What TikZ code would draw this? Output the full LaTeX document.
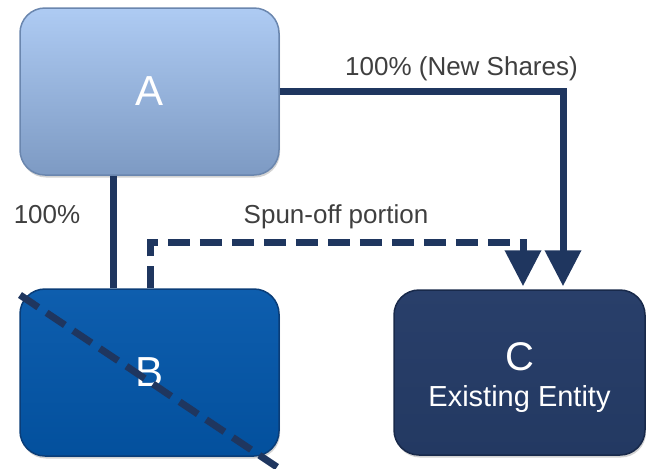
\documentclass[tikz,border=0pt]{standalone}
\usepackage{fontspec}
\setmainfont{Liberation Sans}
\usetikzlibrary{arrows.meta,shadows,calc}
\definecolor{lineblue}{HTML}{1F365F}
\definecolor{atop}{HTML}{AECBF3}
\definecolor{abot}{HTML}{7D9AC3}
\definecolor{aedge}{HTML}{6A86AE}
\definecolor{btop}{HTML}{0E5EAE}
\definecolor{bbot}{HTML}{03509D}
\definecolor{bedge}{HTML}{0A3D78}
\definecolor{ctop}{HTML}{293F6A}
\definecolor{cbot}{HTML}{233962}
\definecolor{cedge}{HTML}{18294A}
\definecolor{labelgray}{HTML}{3F3F3F}
\tikzset{
  box/.style={rounded corners=25pt, minimum width=259pt, minimum height=167pt,
    inner sep=0pt, line width=1.5pt, text=white, align=center,
    drop shadow={opacity=0.35, shadow xshift=1pt, shadow yshift=-2.5pt}},
  conn/.style={draw=lineblue, line width=7pt},
  dashconn/.style={conn, dash pattern=on 22pt off 10pt},
  tip/.style={-{Triangle[width=35pt,length=36pt]}},
  lbl/.style={text=labelgray, font=\fontsize{26}{30}\selectfont, inner sep=0pt, anchor=base},
  big/.style={font=\fontsize{42}{42}\selectfont}
}
\begin{document}
\begin{tikzpicture}[x=1pt,y=-1pt]
\useasboundingbox (0,0) rectangle (646,469);
\node[box, big, top color=atop, bottom color=abot, draw=aedge] (A) at (149.5,91.5) {A};
\node[box, big, top color=btop, bottom color=bbot, draw=bedge] (B) at (149.5,372.5) {B};
\node[box, minimum width=251pt, minimum height=165pt, top color=ctop, bottom color=cbot, draw=cedge, font=\fontsize{29}{36}\selectfont] (C) at (519.5,372.5)
  {{\fontsize{40}{36}\selectfont\rule{0pt}{38pt}C}\\[0pt]Existing Entity};
% A to B (100%)
\draw[conn] ([xshift=-36.5pt]A.south) -- ([xshift=-36.5pt]B.north);
% A to C (new shares)
\draw[conn, tip] (A.east) -| ([xshift=43.5pt,yshift=3pt]C.north);
% B to C (spun-off)
\draw[dashconn, tip] ([xshift=0.5pt]B.north) |- (336,242) -| ([xshift=3.5pt,yshift=3pt]C.north);
% strike-through of B
\coordinate (s1) at (20,295);
\coordinate (s2) at (277,467);
\draw[dashconn] (s1) -- (s2);
% labels
\node[lbl] (l1) at (461.5,75) {100\% (New Shares)};
\node[lbl] (l2) at (336,223.5) {Spun-off portion};
\node[lbl] (l3) at (47,223) {100\%};
\end{tikzpicture}
\end{document}
